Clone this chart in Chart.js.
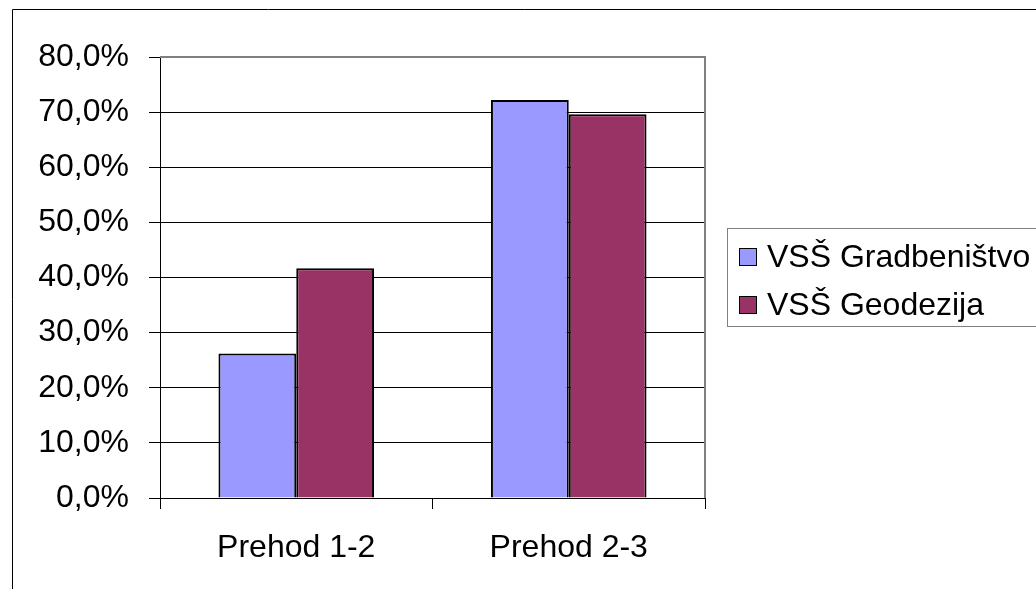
<!DOCTYPE html>
<html>
<head>
<meta charset="utf-8">
<title>Prehod</title>
<script src="https://cdn.jsdelivr.net/npm/chart.js@4/dist/chart.umd.min.js"></script>
<style>
    html, body { margin: 0; padding: 0; background: #fff; }
    #wrap { width: 1036px; height: 589px; position: relative; }
</style>
</head>
<body>
<div id="wrap"><canvas id="myChart" width="1036" height="589"></canvas></div>
<script>
var categories = ['Prehod 1-2', 'Prehod 2-3'];
var seriesNames = ['VSŠ Gradbeništvo', 'VSŠ Geodezija'];
var gradbenistvo = [26.2, 72.2];
var geodezija = [41.7, 69.6];
var yTicks = [0, 10, 20, 30, 40, 50, 60, 70, 80];

var colors = ['#9999ff', '#993366'];
var fontFamily = "'Liberation Sans', Arial, sans-serif";
var fontSize = 32;

function percentLabel(value){
    return value.toFixed(1).replace('.', ',') + '%';
}

// frame, grey plot border and the boxed legend
var decorations = {
    id: 'decorations',
    afterDraw: function(chart){
        var ctx = chart.ctx;
        var area = chart.chartArea;
        ctx.save();

        ctx.strokeStyle = '#000';
        ctx.lineWidth = 1;
        ctx.beginPath();
        ctx.moveTo(12.5, 600);
        ctx.lineTo(12.5, 9.5);
        ctx.lineTo(1040, 9.5);
        ctx.stroke();

        ctx.strokeStyle = '#808080';
        ctx.lineWidth = 2;
        ctx.beginPath();
        ctx.moveTo(area.left, area.top);
        ctx.lineTo(area.right, area.top);
        ctx.lineTo(area.right, area.bottom);
        ctx.stroke();

        // legend
        ctx.lineWidth = 1;
        ctx.strokeStyle = '#808080';
        ctx.strokeRect(727.5, 228.5, 320, 98);

        ctx.font = fontSize + 'px ' + fontFamily;
        ctx.textBaseline = 'middle';
        ctx.textAlign = 'left';
        var rows = [257, 305];
        for(var i = 0; i < chart.data.datasets.length; i++){
            var ds = chart.data.datasets[i];
            ctx.fillStyle = ds.backgroundColor;
            ctx.fillRect(740, rows[i] - 8, 16, 16);
            ctx.strokeStyle = '#000';
            ctx.strokeRect(739.5, rows[i] - 8.5, 17, 17);
            ctx.fillStyle = '#000';
            ctx.fillText(ds.label, 767, rows[i] + 1);
        }
        ctx.restore();
    }
};

var ctx = document.getElementById('myChart').getContext('2d');
var chart = new Chart(ctx, {
    type: 'bar',
    data: {
        labels: categories,
        datasets: [{
            label: seriesNames[0],
            data: gradbenistvo,
            backgroundColor: colors[0],
            borderColor: '#000',
            borderWidth: 2
        }, {
            label: seriesNames[1],
            data: geodezija,
            backgroundColor: colors[1],
            borderColor: '#000',
            borderWidth: 2
        }]
    },
    options: {
        responsive: false,
        animation: false,
        layout: {
            padding: { left: 0, top: 57, right: 331, bottom: 0 }
        },
        datasets: {
            bar: {
                barPercentage: 1,
                categoryPercentage: 0.571
            }
        },
        plugins: {
            legend: { display: false },
            tooltip: { enabled: false }
        },
        scales: {
            x: {
                offset: true,
                grid: {
                    offset: true,
                    drawOnChartArea: false,
                    tickLength: 11,
                    color: '#000'
                },
                border: { color: '#000', width: 1 },
                ticks: {
                    color: '#000',
                    padding: 20,
                    font: { family: fontFamily, size: fontSize }
                },
                afterFit: function(scale){
                    scale.height = 91;
                }
            },
            y: {
                min: yTicks[0],
                max: yTicks[yTicks.length - 1],
                afterBuildTicks: function(scale){
                    scale.ticks = yTicks.map(function(v){ return { value: v }; });
                },
                grid: {
                    color: '#000',
                    tickColor: '#000',
                    tickLength: 11
                },
                border: { color: '#000', width: 1 },
                ticks: {
                    color: '#000',
                    padding: 20,
                    font: { family: fontFamily, size: fontSize },
                    callback: function(value){
                        return percentLabel(value);
                    }
                },
                afterFit: function(scale){
                    scale.width = 160;
                }
            }
        }
    },
    plugins: [decorations]
});
</script>
</body>
</html>
